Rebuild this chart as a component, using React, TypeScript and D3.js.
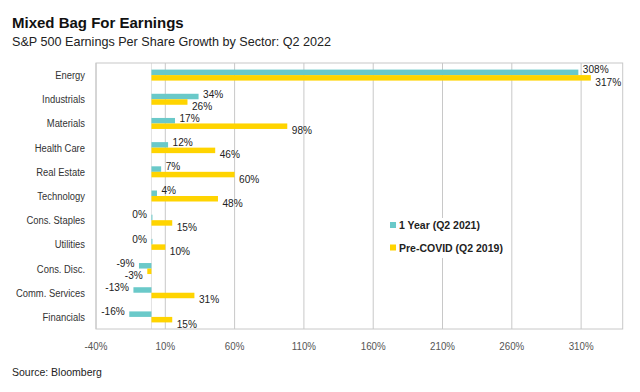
import React from "react";
import * as d3 from "d3";

const categories = ["Energy", "Industrials", "Materials", "Health Care", "Real Estate", "Technology", "Cons. Staples", "Utilities", "Cons. Disc.", "Comm. Services", "Financials"];
const oneYear = [308, 34, 17, 12, 7, 4, 0, 0, -9, -13, -16];
const preCovid = [317, 26, 98, 46, 60, 48, 15, 10, -3, 31, 15];
const seriesNames = ["1 Year (Q2 2021)", "Pre-COVID (Q2 2019)"];
const tickValues = [-40, 10, 60, 110, 160, 210, 260, 310];

const W = 640, H = 392;
const CYAN = "#6ac9c9";
const YELLOW = "#ffd400";
const SANS = "Arial, 'Liberation Sans', sans-serif";

function Narrow(props: { x: number; y: number; anchor: string; size: number; fill: string; sx: number; children: React.ReactNode }) {
  return (
    <text transform={`translate(${props.x},${props.y}) scale(${props.sx},1)`} textAnchor={props.anchor} fontFamily={SANS} fontSize={props.size} fill={props.fill}>
      {props.children}
    </text>
  );
}

export default function App() {
  const left = 96, right = 622.7, top = 63, bottom = 329;
  const x = d3.scaleLinear().domain([-40, 340]).range([left, right]);
  const y = d3.scaleBand<string>().domain(categories).range([top, bottom]).paddingInner(0.545).paddingOuter(0.2725);
  const sub = d3.scaleBand<string>().domain(["a", "b"]).range([0, y.bandwidth()]);
  const series = [oneYear, preCovid];
  const colors = [CYAN, YELLOW];
  const labelDy = [1, 8];
  const x0 = x(0);

  return (
    <svg width={W} height={H} style={{ position: "absolute", left: 0, top: 0, background: "#fff" }}>
      <rect x={0} y={0} width={W} height={H} fill="#fff" />
      <text x={12} y={27.5} fontFamily={SANS} fontWeight="bold" fontSize={15} fill="#111">Mixed Bag For Earnings</text>
      <text x={12} y={45.5} fontFamily={SANS} fontSize={12.6} fill="#222">S&amp;P 500 Earnings Per Share Growth by Sector: Q2 2022</text>

      {tickValues.map((t) => (
        <line key={t} x1={x(t)} x2={x(t)} y1={top} y2={bottom} stroke="#c8c8c8" strokeWidth={1} />
      ))}
      <line x1={x0} x2={x0} y1={top} y2={bottom} stroke="#e2e2e2" strokeWidth={1} />
      <rect x={left} y={top} width={right - left} height={bottom - top} fill="none" stroke="#c8c8c8" strokeWidth={1} />

      {tickValues.map((t) => (
        <Narrow key={"t" + t} x={x(t)} y={350} anchor="middle" size={11.5} fill="#555" sx={0.85}>{t}%</Narrow>
      ))}

      {categories.map((c) => (
        <Narrow key={c} x={85} y={(y(c) as number) + y.bandwidth() / 2 + 4} anchor="end" size={11.5} fill="#333" sx={0.82}>{c}</Narrow>
      ))}

      {series.map((vals, si) =>
        categories.map((c, i) => {
          const v = vals[i];
          const by = (y(c) as number) + (sub(si === 0 ? "a" : "b") as number);
          const bh = sub.bandwidth();
          const xa = Math.min(x(v), x0);
          const w = Math.max(Math.abs(x(v) - x0), 1);
          return <rect key={si + c} x={xa} y={by} width={w} height={bh} fill={colors[si]} />;
        })
      )}

      {series.map((vals, si) =>
        categories.map((c, i) => {
          const v = vals[i];
          const by = (y(c) as number) + (sub(si === 0 ? "a" : "b") as number) + sub.bandwidth() / 2;
          const pos = v > 0;
          return (
            <Narrow key={"l" + si + c} x={pos ? x(v) + 4.5 : x(v) - 4.5} y={by + labelDy[si]} anchor={pos ? "start" : "end"} size={11} fill="#222" sx={0.92}>
              {v}%
            </Narrow>
          );
        })
      )}

      <rect x={387} y={218} width={118} height={40} fill="#fff" />
      {seriesNames.map((s, i) => (
        <g key={s}>
          <rect x={390} y={222 + i * 22.5} width={6} height={6} fill={colors[i]} />
          <text x={399} y={229 + i * 22.5} fontFamily={SANS} fontWeight="bold" fontSize={10.5} fill="#222">{s}</text>
        </g>
      ))}

      <text x={12} y={376} fontFamily={SANS} fontSize={10.5} fill="#222">Source: Bloomberg</text>
    </svg>
  );
}
